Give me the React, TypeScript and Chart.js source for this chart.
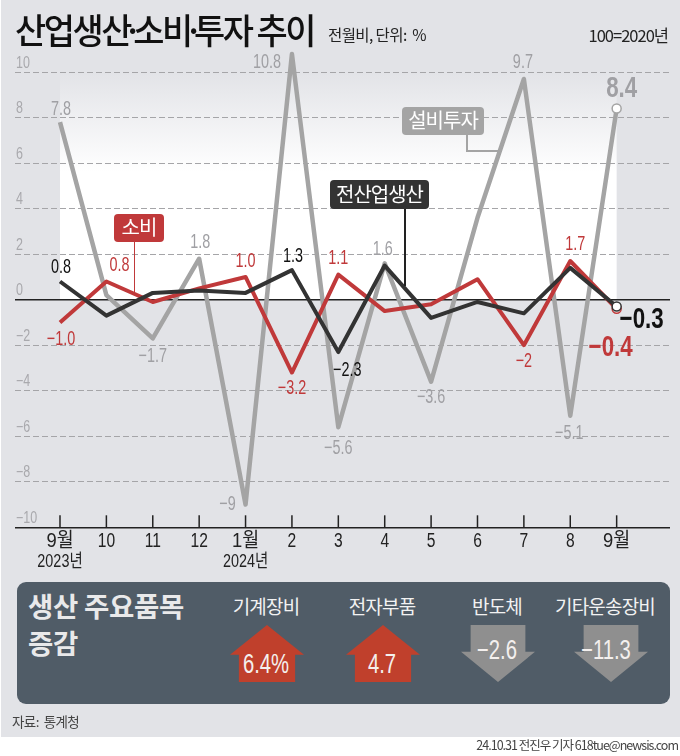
import React, { useEffect, useRef } from 'react';
import { Chart, registerables } from 'chart.js';

Chart.register(...registerables);

const months = [['9월', '2023년'], ['10'], ['11'], ['12'], ['1월', '2024년'], ['2'], ['3'], ['4'], ['5'], ['6'], ['7'], ['8'], ['9월']];
const yTicks = [-10, -8, -6, -4, -2, 0, 2, 4, 6, 8, 10];

const investment = [7.8, 0.2, -1.7, 1.8, -9, 10.8, -5.6, 1.6, -3.6, 3.6, 9.7, -5.1, 8.4];
const production = [0.8, -0.7, 0.3, 0.4, 0.3, 1.3, -2.3, 1.5, -0.8, -0.1, -0.6, 1.4, -0.3];
const consumption = [-1.0, 0.8, -0.1, 0.5, 1.0, -3.2, 1.1, -0.5, -0.2, 0.9, -2, 1.7, -0.4];

const investmentLabels = ['7.8', '', '−1.7', '1.8', '−9', '10.8', '−5.6', '1.6', '−3.6', '', '9.7', '−5.1', '8.4'];
const productionLabels = ['0.8', '', '', '', '', '1.3', '−2.3', '', '', '', '', '', '−0.3'];
const consumptionLabels = ['−1.0', '0.8', '', '', '1.0', '−3.2', '1.1', '', '', '', '−2', '1.7', '−0.4'];

const investmentOffsets = [[1, -14], [0, 0], [0, 17], [1, -17], [-18, -1], [-25, 8], [0, 20], [-2, -15], [0, 15], [0, 0], [-1, -17], [-1, 17], [5, -21]];
const productionOffsets = [[1, -15], [0, 0], [0, 0], [0, 0], [0, 0], [1, -15], [9, 17], [0, 0], [0, 0], [0, 0], [0, 0], [0, 0], [25, 12]];
const consumptionOffsets = [[1, 16], [13, -17], [0, 0], [0, 0], [0, -16], [0, 15], [0, -17], [0, 0], [0, 0], [0, 0], [0, 15], [5, -18], [-6, 38]];

const GRAY = '#a4a4a4';
const RED = '#c0393a';
const DARK = '#333333';
const NUM = '"Liberation Sans", "Noto Sans CJK KR", sans-serif';
const KR = '"Noto Sans CJK KR", sans-serif';

const panelItems = ['기계장비', '전자부품', '반도체', '기타운송장비'];
const panelValues = ['6.4%', '4.7', '−2.6', '−11.3'];
const panelChange = [6.4, 4.7, -2.6, -11.3];

// no condensed face is installed, so numbers get squeezed by hand
const narrowText = (ctx: any, text: string, x: number, y: number, font: string, color: string, align = 'center', squeeze = 0.77) => {
  ctx.save();
  ctx.translate(x, y);
  ctx.scale(squeeze, 1);
  ctx.font = font;
  ctx.fillStyle = color;
  ctx.textAlign = align;
  ctx.textBaseline = 'middle';
  ctx.fillText(text, 0, 0);
  ctx.restore();
};

const drawLabels = (chart: any, index: number, texts: string[], offsets: number[][], color: string) => {
  const meta = chart.getDatasetMeta(index);
  texts.forEach((text, i) => {
    if (!text) return;
    const last = i === texts.length - 1;
    const font = last ? `bold 29px ${NUM}` : `20px ${NUM}`;
    const pt = meta.data[i];
    narrowText(chart.ctx, text, pt.x + offsets[i][0], pt.y + offsets[i][1] + 1, font, color, 'center', last ? 0.77 : 0.72);
  });
};

const decorPlugin = {
  id: 'decor',
  beforeDraw(chart: any) {
    const { ctx, scales } = chart;
    const left = scales.x.getPixelForValue(0);
    const right = scales.x.getPixelForValue(12);
    const top = scales.y.getPixelForValue(10);
    const zero = scales.y.getPixelForValue(0);
    const g = ctx.createLinearGradient(0, top, 0, top + 100);
    g.addColorStop(0, '#e2e3e7');
    g.addColorStop(1, '#ffffff');
    ctx.save();
    ctx.fillStyle = g;
    ctx.fillRect(left, top, right - left, zero - top);
    ctx.restore();
    yTicks.forEach((v) => {
      narrowText(ctx, String(v).replace('-', '−'), 16, scales.y.getPixelForValue(v) - 9, `16px ${NUM}`, '#a9a9ad', 'left', 0.78);
    });
  },
  afterDatasetsDraw(chart: any) {
    const { ctx, scales, chartArea } = chart;
    // tick marks stand on the bottom axis, pointing up
    ctx.save();
    ctx.strokeStyle = '#222';
    ctx.lineWidth = 1.5;
    months.forEach((_, i) => {
      const x = scales.x.getPixelForValue(i);
      ctx.beginPath();
      ctx.moveTo(x, chartArea.bottom);
      ctx.lineTo(x, chartArea.bottom - 12);
      ctx.stroke();
    });
    ctx.restore();
    months.forEach((rows, i) => {
      const x = scales.x.getPixelForValue(i);
      const squeeze = rows[0].includes('월') ? 0.92 : 0.78;
      narrowText(ctx, rows[0], x, chartArea.bottom + 14, `20px ${NUM}`, '#222', 'center', squeeze);
      if (rows[1]) narrowText(ctx, rows[1], x, chartArea.bottom + 35, `18px ${NUM}`, '#222', 'center', 0.8);
    });
    drawLabels(chart, 2, investmentLabels, investmentOffsets, '#a0a0a4');
    drawLabels(chart, 1, consumptionLabels, consumptionOffsets, RED);
    drawLabels(chart, 0, productionLabels, productionOffsets, '#111');
  },
};

const lineStyle = (color: string, width: number) => ({
  borderColor: color,
  borderWidth: width,
  borderJoinStyle: 'round' as const,
  tension: 0,
  pointRadius: (c: any) => (c.dataIndex === 12 ? 4.5 : 0),
  pointBackgroundColor: '#fff',
  pointBorderColor: color,
  pointBorderWidth: 1.5,
});

const toXY = (values: number[]) => values.map((y, x) => ({ x, y }));

const Tag = ({ text, left, top, width, height, bg, size = 20 }: any) => (
  <div style={{
    position: 'absolute', left, top, width, height, background: bg, color: '#fff', borderRadius: 4,
    fontFamily: KR, fontSize: size, lineHeight: `${height - 2}px`, textAlign: 'center', letterSpacing: -1,
  }}>{text}</div>
);

const Line = ({ left, top, width, height, bg }: any) => (
  <div style={{ position: 'absolute', left, top, width, height, background: bg }} />
);

const Text = ({ children, left, right, top, size, color = '#222', weight = 400, family = KR, spacing = 0, center, squeeze = 1 }: any) => (
  <div style={{
    position: 'absolute', left, right, top, fontSize: size, color, fontWeight: weight, fontFamily: family,
    letterSpacing: spacing, whiteSpace: 'nowrap', lineHeight: 1,
    transform: center ? `translateX(-50%) scaleX(${squeeze})` : `scaleX(${squeeze})`,
    transformOrigin: center ? 'center' : 'left',
  }}>{children}</div>
);

const Arrow = ({ center, up }: any) => {
  const w = 74;
  const clip = up
    ? 'polygon(50% 0, 100% 52%, 88% 52%, 88% 100%, 12% 100%, 12% 52%, 0 52%)'
    : 'polygon(13% 0, 87% 0, 87% 47%, 100% 47%, 50% 100%, 0 47%, 13% 47%)';
  return (
    <div style={{
      position: 'absolute', left: center - w / 2, top: 625, width: w, height: 57,
      background: up ? '#c0402c' : '#8f8f8f', clipPath: clip,
    }} />
  );
};

const dot = { margin: '0 -7px' };

const App = () => {
  const canvasRef = useRef<HTMLCanvasElement | null>(null);

  useEffect(() => {
    if (!canvasRef.current) return;
    const chart = new Chart(canvasRef.current, {
      type: 'line',
      data: {
        datasets: [
          { label: '전산업생산', data: toXY(production), ...lineStyle(DARK, 4) },
          { label: '소비', data: toXY(consumption), ...lineStyle(RED, 4) },
          { label: '설비투자', data: toXY(investment), ...lineStyle(GRAY, 4.5) },
        ],
      },
      options: {
        responsive: false,
        animation: false,
        layout: { padding: { left: 15, right: 10, top: 44.8, bottom: 228.7 } },
        plugins: { legend: { display: false }, tooltip: { enabled: false } },
        scales: {
          x: {
            type: 'linear',
            min: -0.97,
            max: 13.15,
            afterFit: (scale: any) => { scale.height = 0; },
            grid: { display: false },
            border: { display: false },
            ticks: { display: false },
          },
          y: {
            min: -10,
            max: 11.2,
            afterBuildTicks: (scale: any) => {
              scale.ticks = yTicks.map((value) => ({ value }));
            },
            afterFit: (scale: any) => { scale.width = 0; },
            grid: {
              drawTicks: false,
              lineWidth: (c: any) => (c.tick.value === 0 || c.tick.value === -10 ? 1.5 : 1),
              color: (c: any) => (c.tick.value === 0 || c.tick.value === -10 ? '#222' : '#a5a5a8'),
            },
            border: {
              display: false,
              dash: (c: any) => (c.tick.value === 0 || c.tick.value === -10 ? [] : [6, 3]),
            },
            ticks: { display: false },
          },
        },
      },
      plugins: [decorPlugin],
    } as any);
    return () => {
      chart.destroy();
    };
  }, []);

  const centers = [266, 382, 497, 605];

  return (
    <div style={{ position: 'absolute', left: 0, top: 0, width: 680, height: 756, background: '#fff', overflow: 'hidden' }}>
      <div style={{ position: 'absolute', left: 1, top: 0, width: 679, height: 737, background: '#e2e3e7' }} />
      <canvas ref={canvasRef} width={680} height={756} style={{ position: 'absolute', left: 0, top: 0, display: 'block' }} />

      <Text left={15} top={11} size={35} weight={500} color="#111" spacing={-2.6} squeeze={0.97}>산업생산<span style={dot}>·</span>소비<span style={dot}>·</span>투자 추이</Text>
      <Text left={328} top={27} size={15.5} spacing={-0.6}>전월비, 단위:{'\u00a0\u00a0'}%</Text>
      <Text right={12} top={27} size={16.5} spacing={-1}>100=2020년</Text>

      <Line left={133.5} top={242} width={1.5} height={50} bg={RED} />
      <Tag text="소비" left={114} top={214} width={50} height={28} bg={RED} />
      <Line left={404} top={208} width={1.5} height={78} bg="#222" />
      <Tag text="전산업생산" left={330} top={180} width={99} height={29} bg={DARK} />
      <Line left={466} top={135} width={1.5} height={16} bg={GRAY} />
      <Line left={466} top={150} width={32} height={1.5} bg={GRAY} />
      <Tag text="설비투자" left={402} top={107} width={82} height={28} bg={GRAY} />

      <div style={{ position: 'absolute', left: 17, top: 582, width: 653, height: 122, background: '#505c67', borderRadius: 9 }} />
      <Text left={28} top={592} size={27.5} weight={700} color="#e9e9ea" spacing={-0.3}>생산 주요품목</Text>
      <Text left={28} top={629} size={27.5} weight={700} color="#e9e9ea" spacing={-0.3}>증감</Text>
      {panelItems.map((item, i) => (
        <Text key={item} left={centers[i]} top={596} size={19} color="#f2f2f2" spacing={-0.8} center>{item}</Text>
      ))}
      {panelChange.map((v, i) => (
        <Arrow key={i} center={centers[i] + (i === 0 ? 1 : i === 3 ? 6 : 1)} up={v > 0} />
      ))}
      {panelValues.map((v, i) => (
        <Text key={v} left={centers[i] + (i === 3 ? 1 : 0)} top={panelChange[i] > 0 ? 651 : 637} size={27} color="#f4f0ee" family={NUM} squeeze={0.75} center>{v}</Text>
      ))}

      <Text left={12} top={715} size={13.5} color="#444" spacing={-0.6}>자료:{'\u00a0\u00a0'}통계청</Text>
      <Text right={2} top={739} size={12.5} color="#444" spacing={-1}>24.10.31 전진우 기자 618tue@newsis.com</Text>
    </div>
  );
};

export default App;
